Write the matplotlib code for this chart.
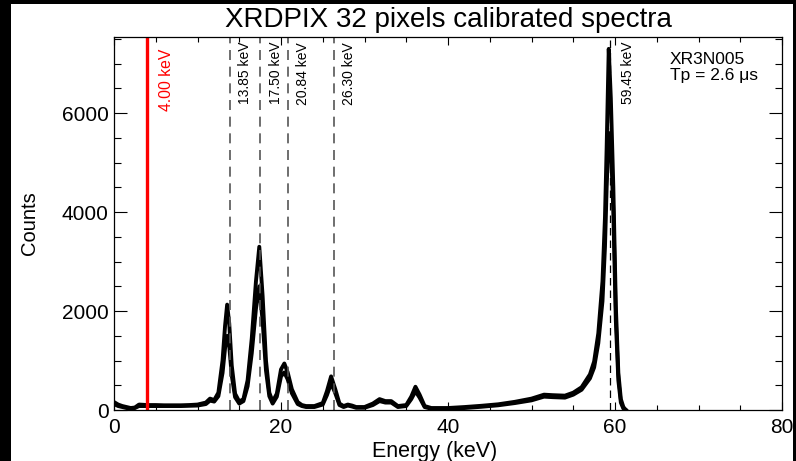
import matplotlib
matplotlib.use("Agg")
import matplotlib.pyplot as plt
from matplotlib.patches import Rectangle
from matplotlib.ticker import MultipleLocator

plt.rcParams["font.family"] = ["Liberation Sans", "DejaVu Sans"]

# spectra: upper and lower envelope of the 32 pixels
energy = [0.0, 0.5, 1.0, 1.5, 2.0, 2.5, 3.0, 4.0, 5.0, 6.0,
          7.0, 8.0, 9.0, 10.0, 11.0, 11.5, 12.0, 12.5, 13.0, 13.3,
          13.55, 13.8, 14.1, 14.5, 15.0, 15.5, 16.0, 16.5, 17.0, 17.4,
          17.8, 18.2, 18.6, 19.0, 19.5, 20.0, 20.4, 20.8, 21.3, 22.0,
          22.5, 23.0, 24.0, 25.0, 25.5, 26.0, 26.5, 27.0, 27.5, 28.0,
          28.5, 29.0, 30.0, 31.0, 31.8, 32.5, 33.2, 34.0, 35.0, 35.6,
          36.1, 36.6, 37.2, 38.0, 40.0, 42.0, 44.0, 46.0, 48.0, 50.0,
          51.5, 52.5, 54.0, 55.0, 56.0, 57.0, 57.5, 58.0, 58.5, 58.8,
          59.0, 59.25, 59.5, 59.8, 60.1, 60.4, 60.7, 61.0, 61.3]

counts_high = [160, 110, 80, 60, 40, 50, 110, 100, 100, 95,
               95, 95, 100, 110, 150, 230, 200, 350, 1000, 1700,
               2130, 1750, 900, 330, 170, 220, 600, 1450, 2600, 3300,
               2300, 1000, 350, 170, 330, 820, 940, 760, 420, 160,
               100, 80, 80, 140, 380, 680, 420, 130, 80, 110,
               90, 60, 60, 130, 220, 180, 180, 80, 100, 270,
               470, 310, 80, 40, 40, 60, 85, 115, 165, 230,
               310, 300, 290, 350, 460, 720, 980, 1550, 2600, 3900,
               5300, 7300, 6300, 4500, 2100, 750, 220, 60, 0]

counts_low = [120, 80, 60, 40, 30, 40, 80, 80, 80, 80,
              80, 80, 85, 90, 120, 190, 170, 280, 750, 1250,
              1500, 1300, 700, 260, 130, 180, 480, 1150, 2050, 2500,
              1800, 800, 280, 130, 270, 680, 760, 620, 340, 120,
              80, 60, 60, 110, 300, 540, 340, 100, 60, 90,
              70, 45, 45, 100, 180, 150, 150, 60, 80, 220,
              380, 250, 60, 25, 25, 40, 65, 95, 140, 195,
              270, 260, 250, 310, 410, 640, 860, 1350, 2200, 3300,
              4500, 5600, 5400, 4000, 1800, 600, 150, 30, 0]

line_energies = [13.85, 17.50, 20.84, 26.30]
line_labels = ["13.85 keV", "17.50 keV", "20.84 keV", "26.30 keV"]
am_energy = 59.45
am_label = "59.45 keV"
threshold = 4.00
threshold_label = "4.00 keV"

fig = plt.figure(figsize=(7.96, 4.61), dpi=100)
fig.patch.set_facecolor("black")
fig.add_artist(Rectangle((11 / 796, 0), 782 / 796, 457 / 461,
                         transform=fig.transFigure, facecolor="white",
                         edgecolor="none", zorder=0))

ax = fig.add_axes([114 / 796, 51 / 461, 668 / 796, 373 / 461])
ax.set_xlim(0, 80)
ax.set_ylim(0, 7540)

ax.plot(energy, counts_low, color="black", lw=2.8)
ax.plot(energy, counts_high, color="black", lw=2.8)

for e, lab in zip(line_energies, line_labels):
    ax.axvline(e, color="#555555", lw=1.2, dashes=(6, 4))
    ax.text(e + 1.85, 0.987, lab, transform=ax.get_xaxis_transform(),
            rotation=90, ha="center", va="top", fontsize=10)

ax.axvline(am_energy, color="black", lw=0.9, dashes=(6, 4))
ax.text(am_energy + 2.05, 0.987, am_label, transform=ax.get_xaxis_transform(),
        rotation=90, ha="center", va="top", fontsize=10)

ax.axvline(threshold, color="red", lw=2.4)
ax.text(threshold + 2.3, 0.968, threshold_label, transform=ax.get_xaxis_transform(),
        rotation=90, ha="center", va="top", fontsize=11.3, color="red")

ax.text(0.832, 0.96, "XR3N005", transform=ax.transAxes, fontsize=12.5,
        ha="left", va="top")
ax.text(0.832, 0.918, "Tp = 2.6 \u03bcs", transform=ax.transAxes, fontsize=12.5,
        ha="left", va="top")

ax.set_xticks([0, 20, 40, 60, 80])
ax.xaxis.set_minor_locator(MultipleLocator(5))
ax.set_yticks([0, 2000, 4000, 6000])
ax.yaxis.set_minor_locator(MultipleLocator(500))
ax.tick_params(which="both", direction="in", top=True, right=True, width=0.8,
               labelsize=15)
ax.tick_params(axis="x", which="major", length=5.8, pad=6)
ax.tick_params(axis="x", which="minor", length=3.6)
ax.tick_params(axis="y", which="major", length=9.4, pad=4)
ax.tick_params(axis="y", which="minor", length=5)
for sp in ax.spines.values():
    sp.set_linewidth(0.9)

ax.set_xlabel("Energy (keV)", fontsize=15.5)
ax.xaxis.set_label_coords(0.4805, -0.082)
ax.set_ylabel("Counts", fontsize=14.5)
ax.yaxis.set_label_coords(-0.113, 0.5)

fig.text(448 / 796, 1 - 27 / 461, "XRDPIX 32 pixels calibrated spectra",
         ha="center", va="baseline", fontsize=20)

fig.savefig("out.png", dpi=100, facecolor=fig.get_facecolor())
